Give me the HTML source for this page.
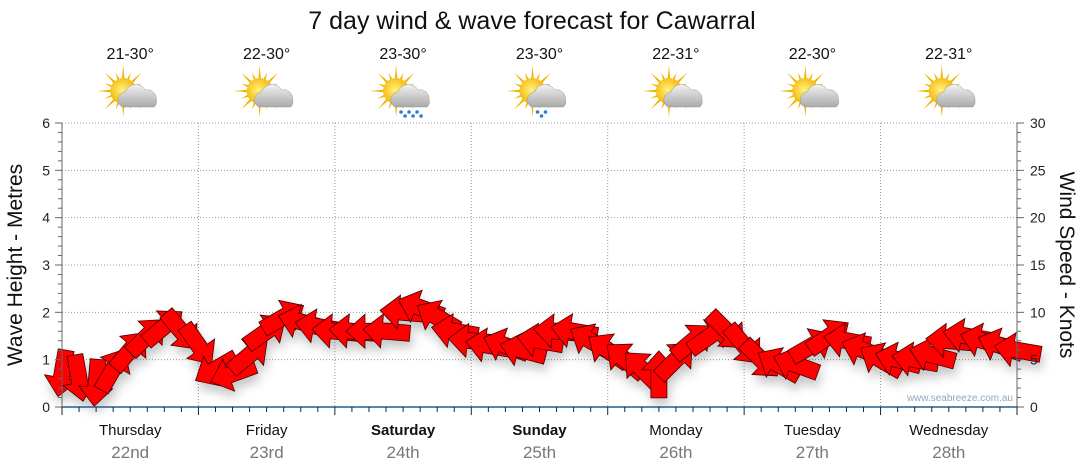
<!DOCTYPE html>
<html><head><meta charset="utf-8"><style>
body{margin:0;background:#fff;font-family:"Liberation Sans",sans-serif}
svg{display:block}
</style></head><body>
<svg id="c" width="1080" height="475" font-family="Liberation Sans, sans-serif">
<defs>
<filter id="sh" x="-20%" y="-20%" width="140%" height="160%"><feDropShadow dx="2" dy="7" stdDeviation="5" flood-color="#000" flood-opacity="0.22"/></filter>
<radialGradient id="sun" cx="0.45" cy="0.45" r="0.6"><stop offset="0" stop-color="#fff27a"/><stop offset="1" stop-color="#f2b000"/></radialGradient>
<linearGradient id="cloud" x1="0" y1="0" x2="0" y2="1"><stop offset="0" stop-color="#f2f2f2"/><stop offset="1" stop-color="#a9a9a9"/></linearGradient>
</defs>
<text x="532" y="29" text-anchor="middle" font-size="25" fill="#111">7 day wind &amp; wave forecast for Cawarral</text>
<g id="grid"></g><g id="icons"></g><g id="arrows" filter="url(#sh)"></g><g id="axes"></g>
<text x="1013" y="401" text-anchor="end" font-size="10" fill="#8fa8c0">www.seabreeze.com.au</text>
<text transform="translate(22,265) rotate(-90)" text-anchor="middle" font-size="21" fill="#111">Wave Height - Metres</text>
<text transform="translate(1060,265) rotate(90)" text-anchor="middle" font-size="21" fill="#111">Wind Speed - Knots</text>
</svg>
<script>
const days=["Thursday","Friday","Saturday","Sunday","Monday","Tuesday","Wednesday"];
const dates=["22nd","23rd","24th","25th","26th","27th","28th"];
const temps=["21-30°","22-30°","23-30°","23-30°","22-31°","22-30°","22-31°"];
const rain=[0,0,2,1,0,0,0];
const waveTicks=[0,1,2,3,4,5,6];
const windTicks=[0,5,10,15,20,25,30];
// wind speed (knots) every 3 hours
const windKn=[3.5,3,2.5,4,6,7.5,8.5,8,6.5,4,3.5,5.5,8,9.5,9,8.5,8,8,8,8,10,10.5,9.5,8,7,6.5,6.5,6,7,8,8,7,6,5,4,3.5,5,7,7.5,8,6.5,5,4.5,4.5,6.5,7.5,7,6,5,5,5,5.5,7,7.5,7,6.5,6];
// arrow pointing direction (degrees, screen, 0=right, 90=down)
const windDir=[100,80,95,-60,-50,-45,-40,50,55,150,160,-40,-35,-30,195,190,185,185,180,185,185,200,210,190,185,190,200,195,190,185,190,210,215,220,225,-90,-45,-40,-35,45,50,45,210,200,-30,-35,190,200,210,195,190,195,185,190,195,200,190];
const L=62,R=1017,T=123,B=407,dayW=(R-L)/7;
const NS="http://www.w3.org/2000/svg";
const yW=v=>B-(v/6)*(B-T), yK=k=>B-(k/30)*(B-T), xT=i=>L+i*dayW/8;
function el(t,a,p){const e=document.createElementNS(NS,t);for(const k in a)e.setAttribute(k,a[k]);p.appendChild(e);return e;}
const g=document.getElementById('grid'),ax=document.getElementById('axes'),ar=document.getElementById('arrows'),ic=document.getElementById('icons');
waveTicks.forEach(v=>{if(v>0){const l=el('line',{x1:L,x2:R,y1:yW(v),y2:yW(v),stroke:'#999','stroke-dasharray':'1,2'},g);

}
const t=el('text',{x:50,y:yW(v)+5,'text-anchor':'end','font-size':14,fill:'#222'},ax);t.textContent=v;

});
windTicks.forEach(k=>{const t=el('text',{x:1030,y:yK(k)+5,'font-size':14,fill:'#222'},ax);t.textContent=k;

});
for(let i=0;i<=30;i++){const y=B-i*(B-T)/30;el('line',{x1:L-(i%5?4:7),x2:L,y1:y,y2:y,stroke:'#666'},ax);el('line',{x1:R,x2:R+(i%5?4:7),y1:y,y2:y,stroke:'#666'},ax);}
el('line',{x1:L,x2:L,y1:T,y2:B,stroke:'#666'},ax);el('line',{x1:R,x2:R,y1:T,y2:B,stroke:'#666'},ax);
el('line',{x1:L,x2:R,y1:B,y2:B,stroke:'#1f5f8f','stroke-width':1.5},ax);
for(let i=0;i<=56;i++){const x=xT(i);el('line',{x1:x,x2:x,y1:B,y2:B+(i%8?5:8),stroke:'#222'},ax);}
days.forEach((d,i)=>{const x=L+(i+0.5)*dayW;
if(i>0){const l=el('line',{x1:L+i*dayW,x2:L+i*dayW,y1:T,y2:B,stroke:'#999','stroke-dasharray':'1,2'},g);

}
const t=el('text',{x:x,y:435,'text-anchor':'middle','font-size':15,fill:'#111','font-weight':(i==2||i==3)?'bold':'normal'},ax);t.textContent=d;


const t2=el('text',{x:x,y:458,'text-anchor':'middle','font-size':17,fill:'#777'},ax);t2.textContent=dates[i];


const t3=el('text',{x:x,y:59,'text-anchor':'middle','font-size':16,fill:'#111'},ic);t3.textContent=temps[i];


const w=el('g',{transform:`translate(${x},95)`},ic);


for(let a=0;a<16;a++){const r=a*Math.PI/8,l=a%2?20:26;el('polygon',{points:`${-7+Math.cos(r-0.15)*10},${-4+Math.sin(r-0.15)*10} ${-7+Math.cos(r)*l},${-4+Math.sin(r)*l} ${-7+Math.cos(r+0.15)*10},${-4+Math.sin(r+0.15)*10}`,fill:'#f0b400'},w);}
el('circle',{cx:-7,cy:-4,r:13,fill:'url(#sun)'},w);
el('path',{d:'M-8,12 a8,8 0 0 1 3,-15 a11,11 0 0 1 20,-2 a9,9 0 0 1 11,9 a8,8 0 0 1 -2,8 z',fill:'url(#cloud)',stroke:'#999','stroke-width':0.5},w);
for(let r=0;r<rain[i]*3;r++){el('circle',{cx:-2+r*4,cy:17+(r%2)*4,r:1.8,fill:'#2a7fd0'},w);}
});
windKn.forEach((k,i)=>{const x=xT(i),y=yK(k);
const p=el('polygon',{points:'-24,-8 4,-8 4,-17 23,0 4,17 4,8 -24,8',fill:'#f00',stroke:'#400','stroke-width':0.8,transform:`translate(${x},${y}) rotate(${windDir[i]})`},ar);

});
</script>
</body></html>
